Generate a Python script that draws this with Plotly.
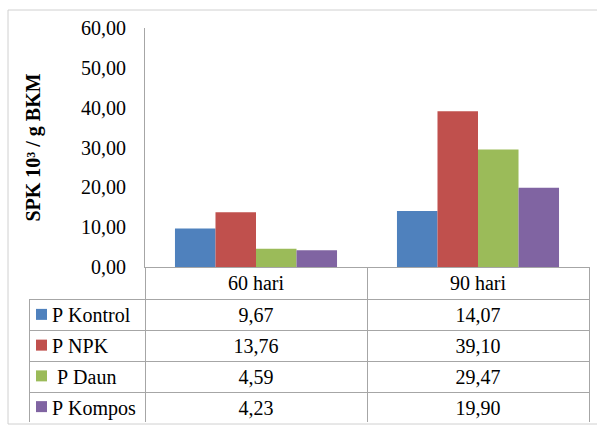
import plotly.graph_objects as go

# Sampling ages and series (SPK 10^3 per g BKM)
categories = ["60 hari", "90 hari"]
series_names = ["P Kontrol", "P NPK", " P Daun", "P Kompos"]
kontrol = [9.67, 14.07]
npk = [13.76, 39.10]
daun = [4.59, 29.47]
kompos = [4.23, 19.90]
y_ticks = [0, 10, 20, 30, 40, 50, 60]

series_values = [kontrol, npk, daun, kompos]
colors = ["#4F81BD", "#C0504D", "#9BBB59", "#8064A2"]

W, H = 597, 427
FONT = "Liberation Serif, Times New Roman, serif"
GRID = "#A6A6A6"
NONE = "rgba(0,0,0,0)"


def fmt(v):
    return f"{v:.2f}".replace(".", ",")


def px_x(x):
    return x / W


def px_y(y):
    return (H - y) / H


fig = go.Figure()
for name, vals, col in zip(series_names, series_values, colors):
    fig.add_trace(go.Bar(x=categories, y=vals, name=name.strip(),
                         marker=dict(color=col, line=dict(width=0)), showlegend=False))

# data table under the plot: header row holds the categories, first column the series
pad = "\u00a0" * 3
label_cells = [pad + n.replace(" ", "\u00a0") for n in series_names]
cols = [label_cells] + [[fmt(series_values[s][i]) for s in range(len(series_names))]
                        for i in range(len(categories))]
fig.add_trace(go.Table(
    domain=dict(x=[px_x(29), px_x(589)], y=[px_y(422), px_y(267)]),
    columnwidth=[116, 222, 222],
    header=dict(values=[""] + categories, height=32, align="center",
                line=dict(color=[NONE, GRID, GRID], width=1), fill=dict(color=NONE),
                font=dict(family=FONT, size=20, color="black")),
    cells=dict(values=cols, height=31, align=["left", "center", "center"],
               line=dict(color=GRID, width=1), fill=dict(color=NONE),
               font=dict(family=FONT, size=20, color="black")),
))

# colour keys in the table's first column, one per series row
fig.add_trace(go.Scatter(x=[0] * len(series_names), y=series_names, mode="markers",
                         marker=dict(symbol="square", size=11, color=colors, line=dict(width=0)),
                         xaxis="x2", yaxis="y2", showlegend=False, hoverinfo="skip"))

fig.update_layout(
    width=W, height=H,
    margin=dict(l=0, r=0, t=0, b=0, pad=0),
    paper_bgcolor="white", plot_bgcolor="white",
    barmode="group", bargap=0.27, bargroupgap=0,
    separators=",.",
    font=dict(family=FONT, size=20, color="black"),
    shapes=[dict(type="rect", xref="paper", yref="paper",
                 x0=px_x(8), x1=1.1, y0=px_y(424), y1=px_y(10),
                 line=dict(color="#D0D0D0", width=1), layer="below")],
    xaxis=dict(domain=[px_x(145), px_x(589)], showgrid=False, zeroline=False, showline=True,
               linecolor=GRID, linewidth=1, ticks="", showticklabels=False, automargin=False,
               anchor="y"),
    yaxis=dict(domain=[px_y(267), px_y(28)], range=[0, 60], tickvals=y_ticks, tickformat=".2f",
               showgrid=False, zeroline=False, showline=True, linecolor=GRID, linewidth=1,
               ticks="", ticklabelstandoff=14, tickfont=dict(family=FONT, size=20),
               automargin=False, anchor="x",
               title=dict(text="<b>SPK 10³ / g BKM</b>", font=dict(family=FONT, size=20),
                          standoff=35)),
    xaxis2=dict(domain=[px_x(29), px_x(145)], range=[-12.5, 103.5], visible=False,
                anchor="y2", fixedrange=True),
    yaxis2=dict(domain=[px_y(422), px_y(299)], type="category", range=[3.5, -0.5],
                visible=False, anchor="x2", fixedrange=True),
)

fig.write_html("out.html")
